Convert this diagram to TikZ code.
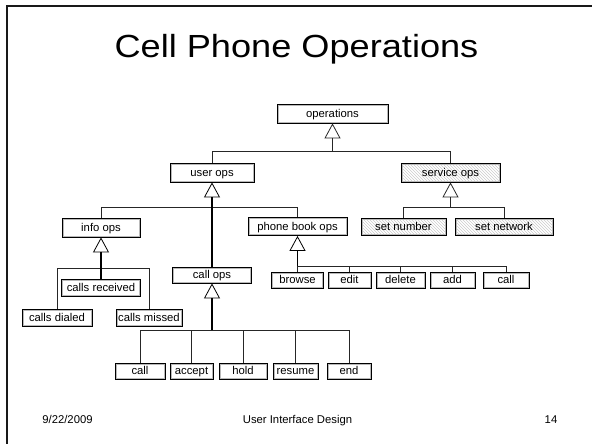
\documentclass[tikz,border=0pt]{standalone}
\usepackage{fontspec}
\setmainfont{Liberation Sans}
\usetikzlibrary{arrows.meta,patterns}
\tikzset{
  boxbase/.style={draw=black, line width=0.8pt, inner sep=0pt,
    font=\fontsize{11.3}{12}\selectfont, text height=8.6pt, text depth=1.2pt,
    minimum width=#1, minimum height=17pt,
    path picture={\draw[gray!55,line width=0.8pt]
      ([shift={(0.9pt,0.9pt)}]path picture bounding box.south west) rectangle
      ([shift={(-0.9pt,-0.9pt)}]path picture bounding box.north east);}},
  box/.style={boxbase=#1, fill=white},
  hbox/.style={boxbase=#1, pattern=north west lines, pattern color=gray!40},
  con/.style={draw=black!85, line width=0.9pt},
  stemA/.style={draw=black, line width=1.6pt},
  stemB/.style={draw=black, line width=2.4pt},
  tri/.style={-{Triangle[open,length=15pt 0,width=16pt 0,line width=0.8pt 0]}},
  small/.style={font=\fontsize{11.3}{12}\selectfont, inner sep=0pt}
}
\begin{document}
\begin{tikzpicture}[x=1pt,y=-1pt]
\useasboundingbox (0,0) rectangle (592,444);
\draw[line width=2pt, black!90] (7,444) -- (7,6) -- (592,6);

\node[anchor=base, font=\fontsize{32}{34}\selectfont, inner sep=0pt] (title) at (296.5,58) {\scalebox{1.13}[1]{Cell Phone Operations}};

% level 0-1
\node[box=111pt, minimum height=19pt] (ops) at (332.5,113.5) {operations};
\node[box=84pt, minimum height=19pt] (user) at (212,172.5) {user ops};
\node[hbox=99pt, minimum height=19pt] (serv) at (450.5,172.5) {service ops};

% level 2
\node[box=78pt, minimum height=19pt] (info) at (101,227.5) {info ops};
\node[box=99pt, minimum height=18pt] (pb) at (297.5,226.5) {phone book ops};
\node[hbox=85pt] (setnum) at (403.5,226.5) {set number};
\node[hbox=98pt] (setnet) at (504,226.5) {set network};
\node[box=79pt, minimum height=16pt] (callops) at (212,275) {call ops};

% info children
\node[box=79pt] (recv) at (101,287.5) {calls received};
\node[box=70pt] (dialed) at (57,317.5) {calls dialed};
\node[box=66pt] (missed) at (149,317.5) {calls missed};

% phone book children
\node[box=52pt, minimum height=16pt] (browse) at (297.5,280) {browse};
\node[box=43pt, minimum height=16pt] (edit) at (349.5,280) {edit};
\node[box=49pt, minimum height=16pt] (delete) at (400.5,280) {delete};
\node[box=45pt, minimum height=16pt] (add) at (452.5,280) {add};
\node[box=46pt, minimum height=16pt] (pbcall) at (506,280) {call};

% call ops children
\node[box=50pt, minimum height=16pt] (ccall) at (140,371) {call};
\node[box=43pt, minimum height=16pt] (accept) at (191.5,371) {accept};
\node[box=48pt, minimum height=16pt] (hold) at (243,371) {hold};
\node[box=45pt, minimum height=16pt] (resume) at (295.5,371) {resume};
\node[box=44pt, minimum height=16pt] (endb) at (349,371) {end};

% junctions
\coordinate (j0) at (332.5,151);
\coordinate (j1) at (212,207);
\coordinate (j2) at (101,268);
\coordinate (j3) at (212,330);
\coordinate (j4) at (297.5,266);
\coordinate (j5) at (450.5,207);

% operations
\draw[con] (user.north) -- (user.north |- j0) -- (serv.north |- j0) -- (serv.north);
\draw[con,tri] (j0) -- (ops.south);
% user ops
\draw[con] (info.north) -- (info.north |- j1) -- (pb.north |- j1) -- (pb.north);
\draw[stemA,tri] (callops.north) -- (user.south);
% service ops
\draw[con] (setnum.north) -- (setnum.north |- j5) -- (setnet.north |- j5) -- (setnet.north);
\draw[con,tri] (j5) -- (serv.south);
% info ops
\draw[con] (dialed.north) -- (dialed.north |- j2) -- (missed.north |- j2) -- (missed.north);
\draw[stemA,tri] (recv.north) -- (info.south);
% phone book ops
\draw[con] (browse.north) -- (j4) -- (pbcall.north |- j4) -- (pbcall.north);
\draw[con] (edit.north) -- (edit.north |- j4);
\draw[con] (delete.north) -- (delete.north |- j4);
\draw[con] (add.north) -- (add.north |- j4);
\draw[stemA,tri] (j4) -- (pb.south);
% call ops
\draw[con] (ccall.north) -- (ccall.north |- j3) -- (endb.north |- j3) -- (endb.north);
\draw[con] (accept.north) -- (accept.north |- j3);
\draw[con] (hold.north) -- (hold.north |- j3);
\draw[con] (resume.north) -- (resume.north |- j3);
\draw[stemB,tri] (j3) -- (callops.south);

% footer
\node[small, anchor=base] (date) at (67.5,423.5) {9/22/2009};
\node[small, anchor=base] (course) at (297.5,423.5) {User Interface Design};
\node[small, anchor=base] (page) at (551,423.5) {14};
\end{tikzpicture}
\end{document}
